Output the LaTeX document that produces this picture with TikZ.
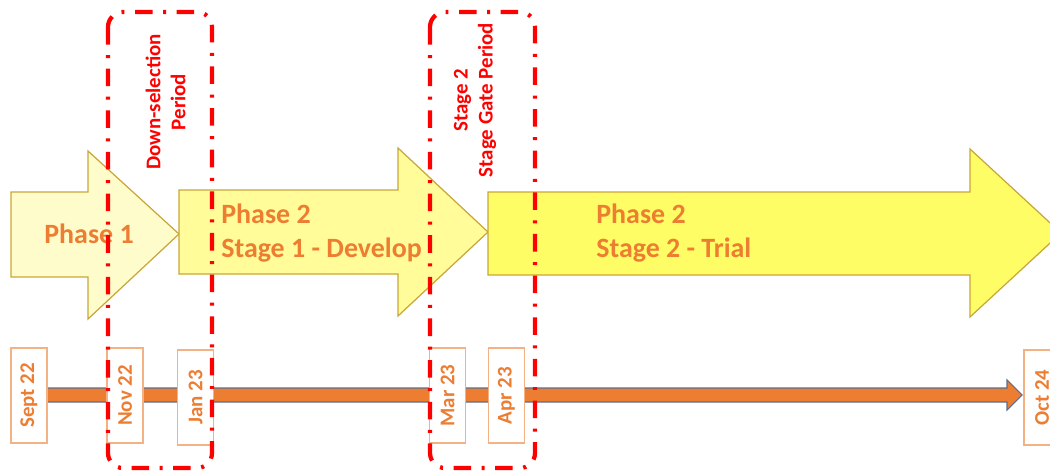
\documentclass[tikz,border=0pt]{standalone}
\usepackage{fontspec}
\setmainfont{Carlito}
\usetikzlibrary{calc}
\definecolor{txtorange}{HTML}{ED7D31}
\definecolor{boxorange}{HTML}{F4B183}
\definecolor{tlorange}{HTML}{ED7D31}
\definecolor{tledge}{HTML}{5A6F8F}
\definecolor{arrowedge}{HTML}{C9A638}
\definecolor{fillA}{HTML}{FFFCCC}
\definecolor{fillB}{HTML}{FFFC99}
\definecolor{fillC}{HTML}{FFFD66}
\definecolor{gatered}{HTML}{FF0000}
\begin{document}
\begin{tikzpicture}[x=0.02cm,y=-0.02cm,
  phasearrow/.style={draw=arrowedge, line width=0.7pt, line join=miter},
  phasetext/.style={text=txtorange, font=\fontsize{15.9}{19.3}\selectfont\bfseries, anchor=base west, inner sep=0pt, align=left},
  datebox/.style={draw=boxorange, fill=white, line width=0.7pt, rotate=90, minimum width=1.9cm, minimum height=0.72cm, inner sep=0pt, text=txtorange, font=\fontsize{11.9}{14}\selectfont\bfseries},
  tlarrow/.style={fill=tlorange, draw=tledge, line width=0.6pt, line join=miter},
  gatebox/.style={draw=gatered, line width=2.4pt, rounded corners=0.3cm, dash pattern=on 10pt off 6pt on 1.7pt off 6pt},
  gatetext/.style={text=gatered, rotate=90, align=center, inner sep=0pt, font=\fontsize{11.9}{14.2}\selectfont\bfseries}]
\useasboundingbox (0,0) rectangle (1050,473);
\clip (0,0) rectangle (1050,473);
% phase arrows
\path[phasearrow, fill=fillA] (11,192) -- (88,192) -- (88,151) -- (179,234) -- (88,319) -- (88,277) -- (11,277) -- cycle;
\path[phasearrow, fill=fillB] (179,190) -- (398,190) -- (398,148) -- (488,232) -- (398,316) -- (398,274) -- (179,274) -- cycle;
\path[phasearrow, fill=fillC] (488,192) -- (970,192) -- (970,149) -- (1061,233) -- (970,317) -- (970,275) -- (488,275) -- cycle;
\node[phasetext] (p1) at (44,243) {Phase 1};
\node[phasetext] (p2) at (221,257) {Phase 2\\Stage 1 - Develop};
\node[phasetext] (p3) at (596,257) {Phase 2\\Stage 2 - Trial};
% timeline
\coordinate (tlend) at (1022,395);
\coordinate (tlstart) at (27,395);
\draw[tlarrow] ($(tlstart)+(0,-7)$) -- ($(tlend)+(-15,-7)$) -- ($(tlend)+(-15,-15)$) -- (tlend) -- ($(tlend)+(-15,15)$) -- ($(tlend)+(-15,7)$) -- ($(tlstart)+(0,7)$) -- cycle;
% date boxes
\node[datebox] (sept) at (29,395.5) {Sept 22};
\node[datebox] (nov) at (125,395.5) {Nov 22};
\node[datebox] (jan) at (195.5,397.5) {Jan 23};
\node[datebox] (mar) at (447.5,395.5) {Mar 23};
\node[datebox] (apr) at (506.5,395.5) {Apr 23};
\node[datebox] (oct) at (1042,397.5) {Oct 24};
% gate periods
\draw[gatebox] (108,12) rectangle (212,468);
\draw[gatebox] (430,12) rectangle (535,468);
\node[gatetext] (dsel) at (165.5,102) {Down-selection\\Period};
\node[gatetext] (sgate) at (475,100) {Stage 2\\Stage Gate Period};
\end{tikzpicture}
\end{document}
